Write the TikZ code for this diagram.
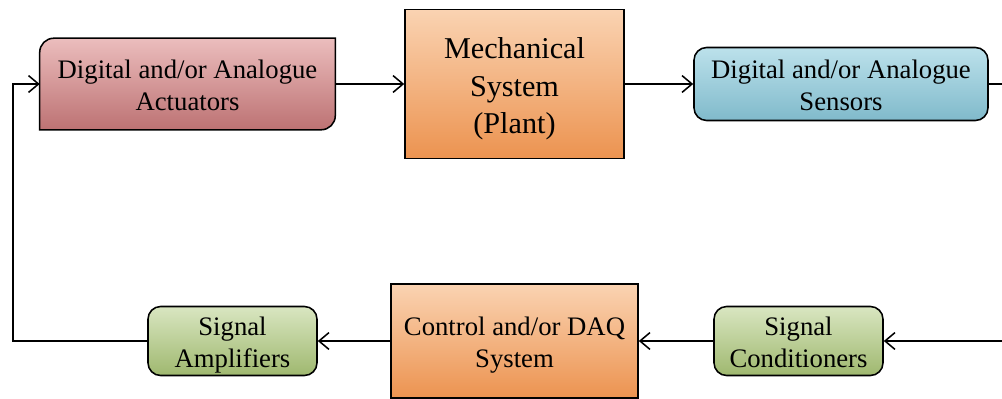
\documentclass[tikz,border=0pt]{standalone}
\usepackage{fontspec}
\setmainfont{Liberation Serif}
\usetikzlibrary{arrows.meta,backgrounds}
\definecolor{actTop}{HTML}{EBBDBD}
\definecolor{actBot}{HTML}{BD7273}
\definecolor{plantTop}{HTML}{FAD3B2}
\definecolor{plantBot}{HTML}{EC9350}
\definecolor{sensTop}{HTML}{BCE1EB}
\definecolor{sensBot}{HTML}{80BACB}
\definecolor{sigTop}{HTML}{D9E6C1}
\definecolor{sigBot}{HTML}{9FB86F}
% strut that sits the text a little lower in its box
\newcommand{\lowstrut}{\rule[-0.18\baselineskip]{0pt}{\baselineskip}}
\tikzset{
  wire/.style={line width=1.1pt, line join=miter},
  flow/.style={wire, -{Straight Barb[length=2.5mm,width=4.2mm]}},
  block/.style={
    draw=black,
    line width=1.1pt,
    align=center,
    inner sep=0pt,
    font=\fontsize{19}{23}\selectfont
  },
  plant/.style={block, top color=plantTop, bottom color=plantBot},
  sensor/.style={block, rounded corners=9pt, top color=sensTop, bottom color=sensBot},
  conditioner/.style={block, rounded corners=9pt, top color=sigTop, bottom color=sigBot},
  actuator/.style={align=center, inner sep=0pt, font=\fontsize{19}{23}\selectfont}
}

\begin{document}
\begin{tikzpicture}[x=1cm,y=1cm]
\useasboundingbox (0,0) rectangle (25.05,9.95);

% forward path
\node[actuator, minimum width=7.375cm, minimum height=2.275cm] (act) at (4.6875,7.85)
  {\lowstrut Digital and/or Analogue\\Actuators\lowstrut};
\node[plant, minimum width=5.475cm, minimum height=3.725cm,
  font=\fontsize{21.5}{26.8}\selectfont] (plant) at (12.8625,7.85)
  {\lowstrut Mechanical\\System\\(Plant)\lowstrut};
\node[sensor, minimum width=7.35cm, minimum height=1.825cm] (sens) at (21.025,7.85)
  {\lowstrut Digital and/or Analogue\\Sensors\lowstrut};

% feedback path
\node[conditioner, minimum width=4.225cm, minimum height=1.725cm] (amp) at (5.8125,1.425)
  {\lowstrut Signal\\Amplifiers\lowstrut};
\node[plant, minimum width=6.175cm, minimum height=2.85cm] (daq) at (12.8625,1.425)
  {\lowstrut Control and/or DAQ\\System\lowstrut};
\node[conditioner, minimum width=4.225cm, minimum height=1.725cm] (cond) at (19.9625,1.425)
  {\lowstrut Signal\\Conditioners\lowstrut};

\begin{scope}[on background layer]
\fill[white] (0,0) rectangle (25.05,9.95);
\shadedraw[top color=actTop, bottom color=actBot, draw=black, line width=1.1pt]
  (act.west) [rounded corners=10pt] -- (act.north west) -- (act.north)
  [sharp corners] -- (act.north east) -- (act.east)
  [rounded corners=10pt] -- (act.south east) -- (act.south)
  [sharp corners] -- (act.south west) -- cycle;
\end{scope}

\coordinate (outR) at (25.05,7.85);
\coordinate (inR) at (25.05,1.425);
\coordinate (loopL) at (0.325,1.425);

\draw[flow] (act) -- (plant);
\draw[flow] (plant) -- (sens);
\draw[wire] (sens) -- (outR);
\draw[flow] (inR) -- (cond);
\draw[flow] (cond) -- (daq);
\draw[flow] (daq) -- (amp);
\draw[flow] (amp.west) -- (loopL) |- (act.west);
\end{tikzpicture}
\end{document}
